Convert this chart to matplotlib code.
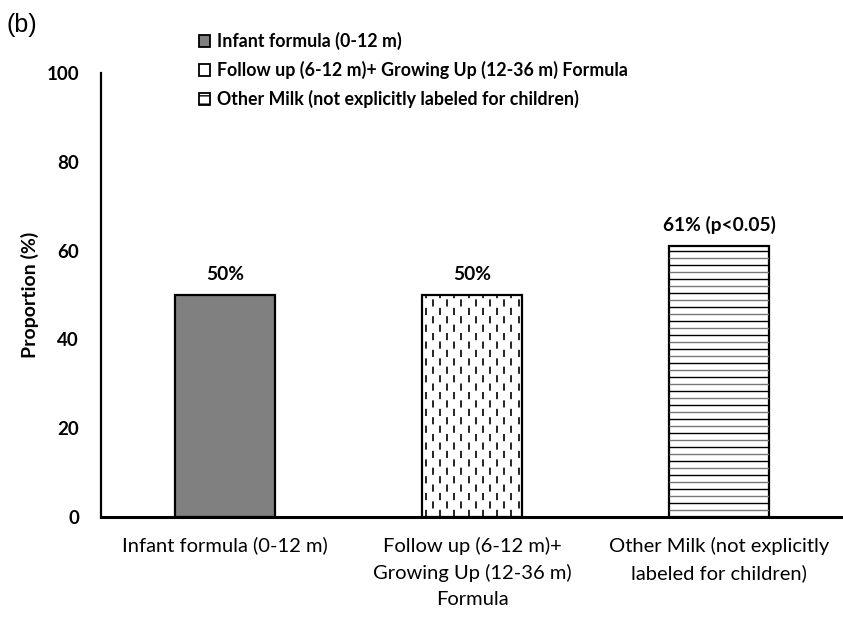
import numpy as np
import matplotlib.pyplot as plt
from matplotlib.patches import Patch

categories = ["Infant formula (0-12 m)",
              "Follow up (6-12 m)+\nGrowing Up (12-36 m)\nFormula",
              "Other Milk (not explicitly\nlabeled for children)"]
legend_labels = ["Infant formula (0-12 m)",
                 "Follow up (6-12 m)+ Growing Up (12-36 m) Formula",
                 "Other Milk (not explicitly labeled for children)"]
values = [50, 50, 61]
value_labels = ["50%", "50%", "61% (p<0.05)"]
yticks = [0, 20, 40, 60, 80, 100]

plt.rcParams['font.family'] = ['Lato', 'DejaVu Sans']

fig = plt.figure(figsize=(8.43, 6.36), dpi=100)
ax = fig.add_axes([0.12, 0.187, 0.88, 0.698])

x = np.arange(len(categories))
width = 0.405
bars = ax.bar(x, values, width=width, color=['#808080', 'white', 'white'],
              edgecolor='black', linewidth=1.6, zorder=3)

# dashed vertical fill for the follow-up bar
b = bars[1]
x0, w, h = b.get_x(), b.get_width(), b.get_height()
step = w / 14
for i, xc in enumerate(np.arange(x0 + step / 2, x0 + w, step)):
    ls = (0, (4.3, 5.8)) if i % 2 == 0 else (5.0, (4.3, 5.8))
    ln = ax.vlines(xc, 0, h, colors='black', linewidth=1.2, linestyles=[ls], zorder=3.5)
    ln.set_clip_path(b)

# horizontal stripes for the other-milk bar
b = bars[2]
x0, w, h = b.get_x(), b.get_width(), b.get_height()
for j, yc in enumerate(np.arange(1.5, h, 1.58)):
    ln = ax.hlines(yc, x0, x0 + w, colors='black' if j % 2 else '#777777',
                   linewidth=1.0, zorder=3.5)
    ln.set_clip_path(b)

for xi, v, lab in zip(x, values, value_labels):
    ax.annotate(lab, (xi, v), xytext=(0, 9), textcoords='offset points',
                ha='center', va='bottom', fontsize=13.8, fontweight='bold')

ax.set_xlim(-0.5, 2.5)
ax.set_ylim(0, 100)
ax.set_yticks(yticks)
ax.set_xticks(x)
ax.set_xticklabels(categories, fontsize=14.5, linespacing=1.62)
for t in ax.get_yticklabels():
    t.set_fontweight('bold')
    t.set_fontsize(13.5)
ax.tick_params(axis='y', length=0, pad=16)
ax.tick_params(axis='x', length=0, pad=14)
ax.set_ylabel("Proportion (%)", fontsize=14, fontweight='bold', labelpad=5)

for s in ['top', 'right']:
    ax.spines[s].set_visible(False)
ax.spines['left'].set_linewidth(1.6)
ax.spines['bottom'].set_linewidth(2.2)

handles = [Patch(facecolor='#808080', edgecolor='black', linewidth=1.3),
           Patch(facecolor='white', edgecolor='black', linewidth=1.3),
           Patch(facecolor='white', edgecolor='black', linewidth=1.3, hatch='--')]
fig.legend(handles, legend_labels, loc='upper left', bbox_to_anchor=(0.217, 0.975),
           frameon=False, handlelength=0.65, handleheight=0.65, handletextpad=0.35,
           labelspacing=0.62, prop={'weight': 'bold', 'size': 12.8})

fig.text(0.008, 0.961, "(b)", fontsize=18, family='Liberation Sans', va='center')

fig.savefig("out.png", dpi=100)
